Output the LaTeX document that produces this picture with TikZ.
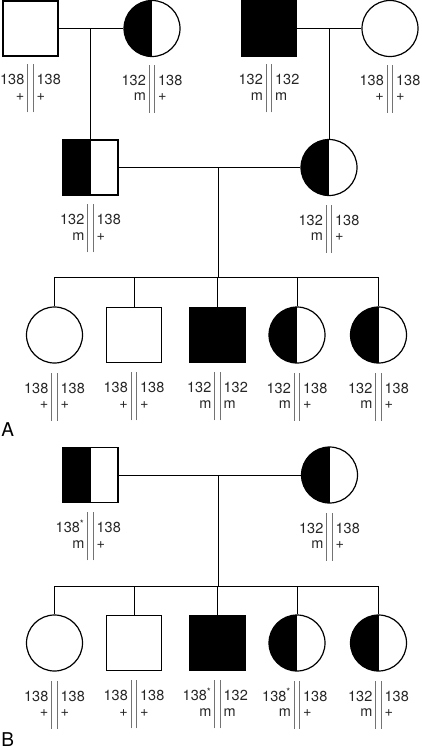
\documentclass[tikz,border=0pt]{standalone}
\usepackage{fontspec}
\setmainfont{TeX Gyre Heros}
\usepackage{array}
\usetikzlibrary{positioning}

\setlength{\tabcolsep}{3pt}
\newcommand{\genofont}{\fontsize{14.5pt}{16pt}\selectfont}
\newcommand{\gtbar}{{\color{black!55}\vrule width 0.9pt\hspace{4.5pt}\vrule width 0.9pt}}
\newcommand{\gtcol}[2][r]{\makebox[24pt][#1]{#2}}
\newcommand{\genotype}[4]{%
  \genofont\renewcommand{\arraystretch}{0}%
  \begin{tabular}{@{}r!{\gtbar}l@{}}
    \gtcol{#1}\rule{0pt}{20.5pt} & \gtcol[l]{#2}\\
    \gtcol{#3}\rule[-12pt]{0pt}{27.5pt} & \gtcol[l]{#4}
  \end{tabular}}
\newcommand{\newallele}{\textsuperscript{*}}

\begin{document}
\begin{tikzpicture}[
        x=1pt, y=-1pt,
        line width=1pt,
        male/.style={draw, rectangle, line width=1.2pt, minimum size=55pt,
                     inner sep=0pt, fill=white},
        female/.style={draw, circle, line width=1.2pt, minimum size=56pt,
                       inner sep=0pt, fill=white},
        affected/.style={fill=black},
        carrier/.style={path picture={
            \fill[black] (path picture bounding box.south west)
                rectangle (path picture bounding box.north);}},
        geno/.style={inner sep=0pt, text=black!85},
        tag/.style={inner sep=0pt, anchor=base west}
    ]
    \useasboundingbox (0,0) rectangle (421,750);

    %% ---- A: grandparents ----
    \node[male]              (a1f) at (30.5,28.5) {};
    \node[female, carrier]   (a1m) at (152,28.5)  {};
    \node[male, affected]    (a1g) at (269,28.5)  {};
    \node[female]            (a1h) at (390,28.5)  {};

    %% ---- A: parents ----
    \node[male, carrier]     (a2f) at (90.5,167.5) {};
    \node[female, carrier]   (a2m) at (329,167.5)  {};

    %% ---- A: children ----
    \node[female]            (a3a) at (54.5,335) {};
    \node[male]              (a3b) at (134,335)  {};
    \node[male, affected]    (a3c) at (217.5,335) {};
    \node[female, carrier]   (a3d) at (297,335)  {};
    \node[female, carrier]   (a3e) at (378.5,335) {};

    %% ---- A: lines of descent ----
    \coordinate (a1c) at (a1f.east -| a2f);
    \coordinate (a1d) at (a1g.east -| a2m);
    \coordinate (a2c) at (218,167.5);
    \coordinate (a2s) at (218,277);
    \draw (a1f) -- (a1m);
    \draw (a1g) -- (a1h);
    \draw (a1c) -- (a2f);
    \draw (a1d) -- (a2m);
    \draw (a2f) -- (a2m);
    \draw (a2c) -- (a2s);
    \draw (a2s -| a3a) -- (a2s -| a3e);
    \draw (a2s -| a3a) -- (a3a);
    \draw (a2s -| a3b) -- (a3b);
    \draw (a2s -| a3c) -- (a3c);
    \draw (a2s -| a3d) -- (a3d);
    \draw (a2s -| a3e) -- (a3e);

    %% ---- A: genotypes ----
    \node[geno, below=7pt of a1f] (g-a1f) {\genotype{138}{138}{+}{+}};
    \node[geno, below=7pt of a1m] (g-a1m) {\genotype{132}{138}{m}{+}};
    \node[geno, below=7pt of a1g] (g-a1g) {\genotype{132}{132}{m}{m}};
    \node[geno, below=7pt of a1h] (g-a1h) {\genotype{138}{138}{+}{+}};
    \node[geno, below=8pt of a2f] (g-a2f) {\genotype{132}{138}{m}{+}};
    \node[geno, below=8pt of a2m] (g-a2m) {\genotype{132}{138}{m}{+}};
    \node[geno, below=8.5pt of a3a] (g-a3a) {\genotype{138}{138}{+}{+}};
    \node[geno, below=8.5pt of a3b] (g-a3b) {\genotype{138}{138}{+}{+}};
    \node[geno, below=8.5pt of a3c] (g-a3c) {\genotype{132}{132}{m}{m}};
    \node[geno, below=8.5pt of a3d] (g-a3d) {\genotype{132}{138}{m}{+}};
    \node[geno, below=8.5pt of a3e] (g-a3e) {\genotype{132}{138}{m}{+}};

    \node[tag] (tagA) at (1,436.5) {\fontsize{19pt}{20pt}\selectfont A};

    %% ---- B: parents ----
    \node[male, carrier]     (b2f) at (90.5,475) {};
    \node[female, carrier]   (b2m) at (329.5,475) {};

    %% ---- B: children ----
    \node[female]            (b3a) at (54.5,643) {};
    \node[male]              (b3b) at (134,643)  {};
    \node[male, affected]    (b3c) at (217.5,643) {};
    \node[female, carrier]   (b3d) at (297,643)  {};
    \node[female, carrier]   (b3e) at (378.5,643) {};

    %% ---- B: lines of descent ----
    \coordinate (b2c) at (218,475);
    \coordinate (b2s) at (218,586);
    \draw (b2f) -- (b2m);
    \draw (b2c) -- (b2s);
    \draw (b2s -| b3a) -- (b2s -| b3e);
    \draw (b2s -| b3a) -- (b3a);
    \draw (b2s -| b3b) -- (b3b);
    \draw (b2s -| b3c) -- (b3c);
    \draw (b2s -| b3d) -- (b3d);
    \draw (b2s -| b3e) -- (b3e);

    %% ---- B: genotypes ----
    \node[geno, below=8.5pt of b2f] (g-b2f) {\genotype{138\newallele}{138}{m}{+}};
    \node[geno, below=8.5pt of b2m] (g-b2m) {\genotype{132}{138}{m}{+}};
    \node[geno, below=8.5pt of b3a] (g-b3a) {\genotype{138}{138}{+}{+}};
    \node[geno, below=8.5pt of b3b] (g-b3b) {\genotype{138}{138}{+}{+}};
    \node[geno, below=8.5pt of b3c] (g-b3c) {\genotype{138\newallele}{132}{m}{m}};
    \node[geno, below=8.5pt of b3d] (g-b3d) {\genotype{138\newallele}{138}{m}{+}};
    \node[geno, below=8.5pt of b3e] (g-b3e) {\genotype{132}{138}{m}{+}};

    \node[tag] (tagB) at (1,746) {\fontsize{19pt}{20pt}\selectfont B};
\end{tikzpicture}
\end{document}
